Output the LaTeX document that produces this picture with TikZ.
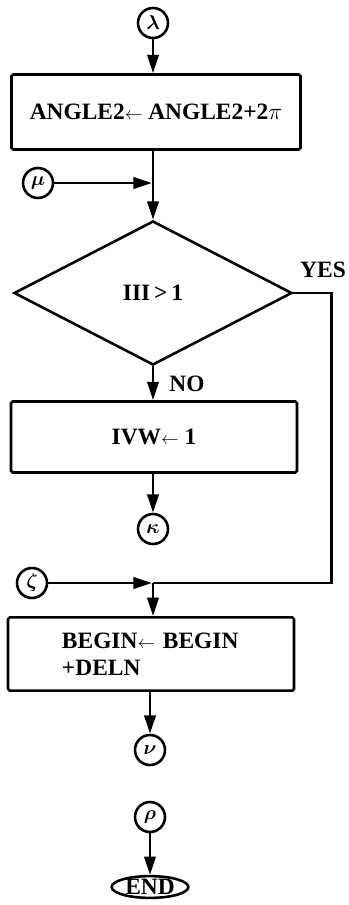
\RequirePackage{fix-cm}
\documentclass[tikz,border=0pt]{standalone}
\usepackage{fontspec}
\setmainfont{Liberation Serif}
\usetikzlibrary{shapes.geometric,arrows.meta}

\newcommand{\asgn}{{\fontsize{15}{15}\selectfont$\leftarrow$}}

\begin{document}
\begin{tikzpicture}[x=0.03cm, y=-0.03cm, line width=2.2pt,
    every node/.style={font=\fontsize{20}{23}\selectfont\bfseries},
    conn/.style={circle, draw, minimum size=0.9cm, inner sep=0pt, font=\fontsize{17}{17}\selectfont\boldmath},
    procbox/.style={draw, rounded corners=1.5pt, minimum width=8.6cm, minimum height=2.2cm},
    flow/.style={-{Triangle[length=0.55cm, width=0.34cm]}}]
    \useasboundingbox (0,0) rectangle (349,905);

    % Connector circles
    \node[conn] (lam) at (153,23) {$\lambda$};
    \node[conn] (mu) at (38,183) {$\mu$};
    \node[conn] (kap) at (153,529) {$\kappa$};
    \node[conn] (zeta) at (32,583) {$\zeta$};
    \node[conn] (nu) at (150,750) {$\nu$};
    \node[conn] (rho) at (150,817) {$\rho$};
    \node[draw, ellipse, inner sep=0pt, minimum width=2.3cm, minimum height=0.65cm] (endn) at (150,887) {END};

    % Process boxes and test
    \node[procbox, minimum width=8.67cm, minimum height=2.25cm] (angle) at (156,112) {ANGLE2\asgn{} ANGLE2+2$\pi$};
    \node[draw, diamond, minimum width=8.34cm, minimum height=4.32cm, inner sep=0pt] (test) at (153,293) {III\,>\,1};
    \node[procbox, minimum width=8.58cm, minimum height=2.13cm] (ivw) at (154,437) {IVW\asgn{} 1};
    \node[procbox, minimum width=8.58cm, inner xsep=1.62cm, text width=5.34cm, align=left] (begin) at (151,654) {BEGIN\asgn{} BEGIN\\+DELN};

    % Labels
    \node (yeslbl) at (323,270) {YES};
    \node (nolbl) at (187,384) {NO};

    % Junctions
    \coordinate (jmu) at (153,183);
    \coordinate (jzeta) at (153,583);

    \draw[flow] (lam) -- (lam |- angle.north);
    \draw (angle.south -| jmu) -- (jmu);
    \draw[flow, shorten >=1pt] (mu) -- (jmu);
    \draw[flow] (jmu) -- (test.north);
    \draw[flow] (test.south) -- (test.south |- ivw.north);
    \draw[flow] (ivw.south -| kap) -- (kap);
    \draw (test.east) -- ++(38,0) |- (jzeta);
    \draw[flow, shorten >=1pt] (zeta) -- (jzeta);
    \draw[flow] (jzeta) -- (jzeta |- begin.north);
    \draw[flow] (begin.south -| nu) -- (nu);
    \draw[flow] (rho) -- (endn);
\end{tikzpicture}
\end{document}
